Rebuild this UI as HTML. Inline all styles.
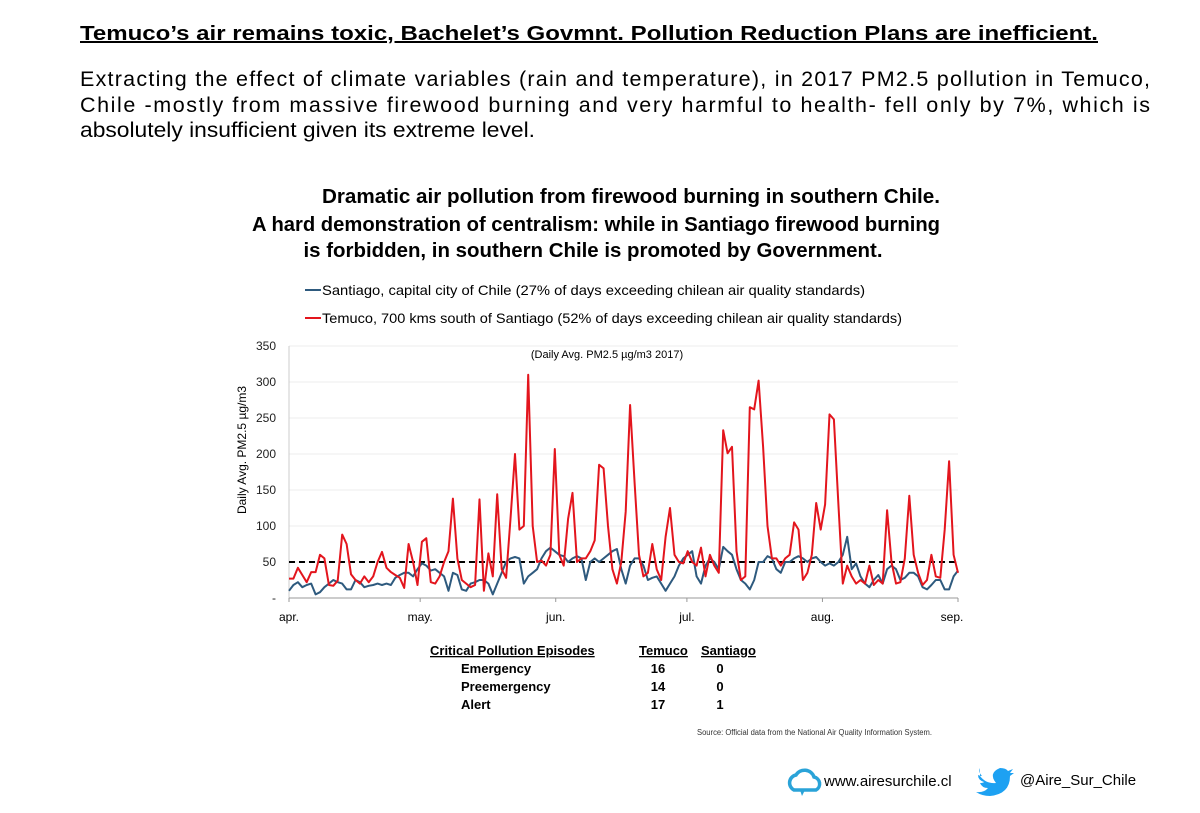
<!DOCTYPE html>
<html><head><meta charset="utf-8"><style>
html,body{margin:0;padding:0;background:#fff;}
svg{display:block;font-family:"Liberation Sans",Arial,sans-serif;}
</style></head><body>
<svg id="root" width="1200" height="813" viewBox="0 0 1200 813">
<text x="589" y="40" text-anchor="middle" font-size="20" font-weight="bold" textLength="1018" lengthAdjust="spacingAndGlyphs" text-decoration="underline">Temuco’s air remains toxic, Bachelet’s Govmnt. Pollution Reduction Plans are inefficient.</text>
<g font-size="21.5">
<text x="80" y="86" textLength="1070" lengthAdjust="spacing">Extracting the effect of climate variables (rain and temperature), in 2017 PM2.5 pollution in Temuco,</text>
<text x="80" y="112" textLength="1070" lengthAdjust="spacing">Chile -mostly from massive firewood burning and very harmful to health- fell only by 7%, which is</text>
<text x="80" y="137" textLength="455" lengthAdjust="spacingAndGlyphs">absolutely insufficient given its extreme level.</text>
</g>
<g font-size="20" font-weight="bold" text-anchor="middle">
<text x="631" y="203" textLength="618" lengthAdjust="spacingAndGlyphs">Dramatic air pollution from firewood burning in southern Chile.</text>
<text x="596" y="231" textLength="688" lengthAdjust="spacingAndGlyphs">A hard demonstration of centralism: while in Santiago firewood burning</text>
<text x="593" y="257" textLength="579" lengthAdjust="spacingAndGlyphs">is forbidden, in southern Chile is promoted by Government.</text>
</g>
<g font-size="14">
<g>
<line x1="305" y1="290" x2="321" y2="290" stroke="#2e5a7e" stroke-width="2"/>
<text x="322" y="295" textLength="543" lengthAdjust="spacingAndGlyphs">Santiago, capital city of Chile (27% of days exceeding chilean air quality standards)</text></g>
<g>
<line x1="305" y1="318" x2="321" y2="318" stroke="#e3151d" stroke-width="2"/>
<text x="322" y="323" textLength="580" lengthAdjust="spacingAndGlyphs">Temuco, 700 kms south of Santiago (52% of days exceeding chilean air quality standards)</text></g>
</g>
<text x="607" y="358" text-anchor="middle" font-size="11">(Daily Avg. PM2.5 µg/m3 2017)</text>
<text transform="translate(246,450) rotate(-90)" text-anchor="middle" font-size="12">Daily Avg. PM2.5 µg/m3</text>
<g id="grid"></g>
<g id="yticks"></g>
<g id="xaxis"></g>
<g id="series"></g>
<g font-size="13" font-weight="bold">
<text x="430" y="655" text-decoration="underline">Critical Pollution Episodes</text>
<text x="639" y="655" text-decoration="underline">Temuco</text>
<text x="701" y="655" text-decoration="underline">Santiago</text>
<text x="461" y="673">Emergency</text><text x="658" y="673" text-anchor="middle">16</text><text x="720" y="673" text-anchor="middle">0</text>
<text x="461" y="691">Preemergency</text><text x="658" y="691" text-anchor="middle">14</text><text x="720" y="691" text-anchor="middle">0</text>
<text x="461" y="709">Alert</text><text x="658" y="709" text-anchor="middle">17</text><text x="720" y="709" text-anchor="middle">1</text>
</g>
<text x="697" y="735" font-size="8" textLength="235" lengthAdjust="spacingAndGlyphs" fill="#333">Source: Official data from the National Air Quality Information System.</text>
<g>
<path d="M794 790 a8 8 0 0 1 2 -15 a10 10 0 0 1 18 2 a7 7 0 0 1 2 13 z" fill="none" stroke="#2aa3d8" stroke-width="3.5"/>
<path d="M800 790 l2 6 l3 -6" fill="#2aa3d8"/>
<text x="824" y="786" font-size="15">www.airesurchile.cl</text></g>
<g>
<path d="M980 776 q6 8 16 7 q-8 -10 4 -15 q6 0 8 3 l5 -2 l-3 4 l4 0 l-4 3 q0 18 -20 20 q-8 0 -14 -4 q8 1 12 -4 q-6 0 -8 -5 q3 0 4 -1 q-6 -2 -6 -7 q2 1 4 1 q-4 -4 -2 -8 z" fill="#1da1f2"/>
<text x="1020" y="785" font-size="15">@Aire_Sur_Chile</text></g>
</svg>
<script>
const yTicks=[0,50,100,150,200,250,300,350];
const yTickLabels=["-","50","100","150","200","250","300","350"];
const monthLabels=["apr.","may.","jun.","jul.","aug.","sep."];
const monthStartDays=[0,30,61,91,122,153];
const threshold=50;
const temuco=[27,27,42,32,22,36,36,60,55,18,17,24,88,75,33,25,20,30,22,30,50,64,42,36,32,28,14,75,50,18,78,83,22,20,30,50,65,138,55,25,20,15,18,
137,10,62,30,144,40,28,110,200,95,100,310,100,50,52,45,60,207,60,45,110,146,50,55,55,65,80,185,180,100,40,20,50,120,268,160,60,30,35,75,40,25,85,125,60,50,48,65,50,45,70,30,60,45,35,
233,201,210,65,25,30,265,262,302,210,100,55,55,45,55,60,105,95,25,35,60,132,95,130,255,248,130,20,45,30,20,25,20,45,18,25,20,122,50,20,22,55,142,60,35,18,25,60,30,28,95,190,60,35];
const santiago=[10,18,22,15,18,20,5,8,15,20,25,22,20,12,12,25,22,15,17,18,20,18,20,18,28,32,35,35,30,40,48,45,38,40,35,30,10,35,32,12,10,20,22,
25,25,20,5,20,35,50,55,57,55,20,30,35,40,55,65,70,65,60,58,50,55,58,55,25,50,55,50,55,60,65,68,40,20,45,55,55,45,25,28,30,20,10,20,30,45,55,60,65,30,20,45,55,50,40,
71,65,60,40,25,20,12,25,50,50,58,55,40,35,50,50,55,58,55,50,55,57,50,45,48,45,50,60,85,40,48,30,20,15,25,32,20,40,45,40,25,28,35,35,30,15,12,18,25,25,12,12,30,38];
const NS="http://www.w3.org/2000/svg";
const X0=289,X1=958,Y0=598,Y1=346,DAYS=153;
const xDay=d=>X0+(X1-X0)*d/DAYS;
const y=v=>Y0-(Y0-Y1)*v/350;
const xIdx=(i,n)=>X0+(X1-X0)*i/(n-1);
function mk(tag,attrs,parent){const e=document.createElementNS(NS,tag);for(const k in attrs)e.setAttribute(k,attrs[k]);parent.appendChild(e);return e;}
const grid=document.getElementById('grid'),yt=document.getElementById('yticks'),xa=document.getElementById('xaxis'),ser=document.getElementById('series');
yTicks.forEach((v,i)=>{
  if(v>0){const g=mk('line',{x1:X0,x2:X1,y1:y(v),y2:y(v),stroke:'#eeeeee','stroke-width':1},grid);
  
  }
  const t=mk('text',{x:276,y:y(v)+4,'text-anchor':'end','font-size':12,fill:'#222'},yt);
  t.textContent=yTickLabels[i];
  
  
});
const yl=mk('line',{x1:X0,x2:X0,y1:Y1,y2:Y0,stroke:'#ccc'},yt);


const xl=mk('line',{x1:X0,x2:X1,y1:Y0,y2:Y0,stroke:'#999'},xa);


monthLabels.forEach((m,i)=>{
  const x=xDay(monthStartDays[i]);
  const tk=mk('line',{x1:x,x2:x,y1:Y0,y2:Y0+4,stroke:'#999'},xa);
  
  
  const t=mk('text',{x:i===5?x-6:x,y:621,'text-anchor':'middle','font-size':12},xa);
  t.textContent=m;
  
  
});
const th=mk('line',{x1:X0,x2:X1,y1:y(threshold),y2:y(threshold),stroke:'#000','stroke-width':2,'stroke-dasharray':'6,4'},ser);


function line(data,color,name){
  const pts=data.map((v,i)=>xIdx(i,data.length).toFixed(1)+','+y(v).toFixed(1)).join(' ');
  const p=mk('polyline',{points:pts,fill:'none',stroke:color,'stroke-width':2,'stroke-linejoin':'round'},ser);
  
  
}
line(santiago,'#2e5a7e','santiago-line');
line(temuco,'#e3151d','temuco-line');
</script>
</body></html>
